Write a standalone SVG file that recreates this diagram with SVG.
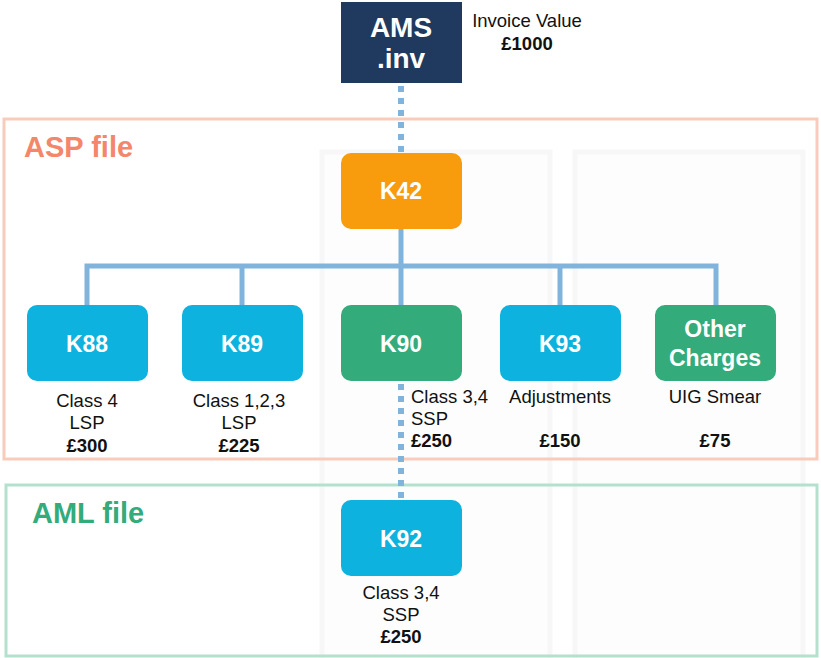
<svg xmlns="http://www.w3.org/2000/svg" width="821" height="658" viewBox="0 0 821 658">
  <style>
    .panel { fill: #fdfdfd; stroke: #f7f7f7; stroke-width: 5; }
    .navy { fill: #1f3a5e; }
    .orange { fill: #f89c0e; }
    .cyan { fill: #0db3de; }
    .green { fill: #33ab7b; }
    .lbl { font-family: "Liberation Sans", Arial, sans-serif; font-weight: bold; fill: #ffffff; text-anchor: middle; font-size: 23px; }
    .big { font-size: 28px; }
    .note { font-family: "Liberation Sans", Arial, sans-serif; font-size: 18.5px; fill: #111111; }
    .mid { text-anchor: middle; }
    .b { font-weight: bold; }
    .solid { stroke: #80b4dc; stroke-width: 5; fill: none; }
    .dots { stroke: #80b4dc; stroke-width: 6; stroke-dasharray: 6 6; fill: none; }
    .title { font-family: "Liberation Sans", Arial, sans-serif; font-weight: bold; font-size: 29px; }
  </style>

  <rect width="821" height="658" fill="#ffffff"/>

  <!-- faint background panels -->
  <rect class="panel" x="322" y="152" width="228" height="510"/>
  <rect class="panel" x="575" y="152" width="228" height="510"/>

  <!-- file frames -->
  <g id="asp-file">
    <rect x="4" y="119" width="813" height="340" fill="none" stroke="#f8cbbb" stroke-width="3"/>
    <text class="title" x="24" y="157" fill="#f4866a">ASP file</text>
  </g>
  <g id="aml-file">
    <rect x="6" y="485" width="811" height="171" fill="none" stroke="#b3e1cd" stroke-width="3"/>
    <text class="title" x="32" y="523" fill="#33ab7b">AML file</text>
  </g>

  <!-- connectors -->
  <g id="connectors">
    <line class="dots" x1="401" y1="86" x2="401" y2="153"/>
    <path class="solid" d="M401 229 V266 M87 305 V266 H716 V305 M242 266 V305 M401 266 V305 M560 266 V305"/>
    <line class="dots" x1="401" y1="384" x2="401" y2="500"/>
  </g>

  <g id="ams">
    <rect class="navy" x="341" y="2" width="121" height="81"/>
    <text class="lbl big" x="401" y="37">AMS</text>
    <text class="lbl big" x="401" y="68">.inv</text>
    <text class="note mid" x="527" y="27">Invoice Value</text>
    <text class="note mid b" x="527" y="50">£1000</text>
  </g>

  <g id="k42">
    <rect class="orange" x="341" y="153" width="121" height="76" rx="10"/>
    <text class="lbl" x="401" y="199">K42</text>
  </g>

  <g id="k88">
    <rect class="cyan" x="27" y="305" width="121" height="76" rx="10"/>
    <text class="lbl" x="87" y="352">K88</text>
    <text class="note mid" x="87" y="407">Class 4</text>
    <text class="note mid" x="87" y="429">LSP</text>
    <text class="note mid b" x="87" y="452">£300</text>
  </g>

  <g id="k89">
    <rect class="cyan" x="182" y="305" width="121" height="76" rx="10"/>
    <text class="lbl" x="242" y="352">K89</text>
    <text class="note mid" x="239" y="407">Class 1,2,3</text>
    <text class="note mid" x="239" y="429">LSP</text>
    <text class="note mid b" x="239" y="452">£225</text>
  </g>

  <g id="k90">
    <rect class="green" x="341" y="305" width="121" height="76" rx="10"/>
    <text class="lbl" x="401" y="352">K90</text>
    <text class="note" x="411" y="403">Class 3,4</text>
    <text class="note" x="411" y="425">SSP</text>
    <text class="note b" x="411" y="447">£250</text>
  </g>

  <g id="k93">
    <rect class="cyan" x="500" y="305" width="121" height="76" rx="10"/>
    <text class="lbl" x="560" y="352">K93</text>
    <text class="note mid" x="560" y="403">Adjustments</text>
    <text class="note mid b" x="560" y="447">£150</text>
  </g>

  <g id="other-charges">
    <rect class="green" x="655" y="305" width="121" height="76" rx="10"/>
    <text class="lbl" x="715" y="337">Other</text>
    <text class="lbl" x="715" y="366">Charges</text>
    <text class="note mid" x="715" y="403">UIG Smear</text>
    <text class="note mid b" x="715" y="447">£75</text>
  </g>

  <g id="k92">
    <rect class="cyan" x="341" y="500" width="121" height="76" rx="10"/>
    <text class="lbl" x="401" y="547">K92</text>
    <text class="note mid" x="401" y="599">Class 3,4</text>
    <text class="note mid" x="401" y="621">SSP</text>
    <text class="note mid b" x="401" y="643">£250</text>
  </g>
</svg>
